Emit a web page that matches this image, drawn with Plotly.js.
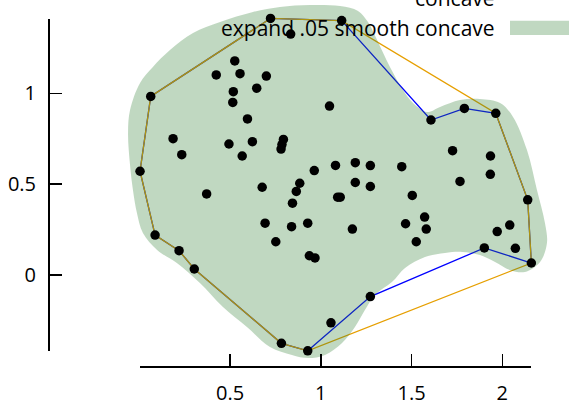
<!DOCTYPE html>
<html>
<head>
<meta charset="utf-8">
<script src="https://cdn.plot.ly/plotly-3.0.1.min.js"></script>
<style>html,body{margin:0;padding:0;background:#fff;}#chart{width:569px;height:406px;}</style>
</head>
<body>
<div id="chart"></div>
<script>
// scattered points
const ptsX = [0.723,1.115,0.834,0.063,0.004,0.087,0.219,0.303,0.783,0.928,1.056,1.273,1.901,2.160,2.140,1.964,1.791,1.607,
  0.526,0.424,0.555,0.700,0.647,0.518,0.515,0.596,0.186,0.234,0.494,0.623,0.567,0.794,0.786,0.781,1.048,0.677,0.371,
  0.884,0.865,0.964,1.081,1.190,1.273,1.190,1.273,1.446,1.504,0.693,0.844,0.839,0.928,0.752,0.937,0.968,1.093,1.107,
  1.174,1.467,1.572,1.581,1.526,1.726,1.767,1.935,1.934,1.972,2.041,2.072];
const ptsY = [1.412,1.400,1.326,0.983,0.571,0.220,0.134,0.033,-0.376,-0.417,-0.263,-0.119,0.149,0.066,0.414,0.890,0.917,0.853,
  1.178,1.101,1.108,1.095,1.028,1.009,0.950,0.859,0.750,0.662,0.721,0.734,0.655,0.746,0.718,0.693,0.930,0.483,0.446,
  0.505,0.460,0.575,0.603,0.618,0.602,0.509,0.487,0.596,0.438,0.285,0.395,0.266,0.285,0.183,0.106,0.094,0.428,0.428,
  0.253,0.282,0.319,0.253,0.183,0.684,0.515,0.655,0.554,0.239,0.275,0.147];

// concave hull
const concaveX = [0.063,0.723,1.115,1.607,1.791,1.964,2.140,2.160,1.901,1.273,0.928,0.783,0.303,0.219,0.087,0.004,0.063];
const concaveY = [0.983,1.412,1.400,0.853,0.917,0.890,0.414,0.066,0.149,-0.119,-0.417,-0.376,0.033,0.134,0.220,0.571,0.983];

// convex hull
const convexX = [0.063,0.723,1.115,1.964,2.140,2.160,0.928,0.783,0.303,0.219,0.087,0.004,0.063];
const convexY = [0.983,1.412,1.400,0.890,0.414,0.066,-0.417,-0.376,0.033,0.134,0.220,0.571,0.983];

// expanded smooth concave outline
const smoothX = [-0.062,-0.051,0.004,0.075,0.169,0.296,0.445,0.626,0.775,0.940,1.106,1.205,1.260,1.310,1.381,1.453,1.508,1.585,
  1.657,1.767,1.877,1.988,2.059,2.136,2.191,2.235,2.246,2.208,2.125,2.042,1.960,1.877,1.778,1.684,1.574,1.464,1.392,1.298,
  1.243,1.188,1.117,1.023,0.930,0.841,0.720,0.593,0.461,0.334,0.207,0.098,0.020,-0.013,-0.035,-0.051,-0.062];
const smoothY = [0.781,0.908,1.057,1.145,1.238,1.332,1.392,1.447,1.475,1.486,1.480,1.453,1.392,1.293,1.145,1.018,0.947,0.897,
  0.925,0.963,0.969,0.947,0.870,0.688,0.468,0.286,0.176,0.072,0.017,0.028,0.072,0.110,0.127,0.121,0.099,0.039,-0.039,-0.110,
  -0.193,-0.286,-0.374,-0.440,-0.457,-0.440,-0.396,-0.286,-0.176,-0.044,0.066,0.138,0.231,0.341,0.468,0.605,0.781];

const xTicks = [0.5, 1, 1.5, 2];
const xTickText = ['0.5', '1', '1.5', '2'];
const yTicks = [0, 0.5, 1];
const yTickText = ['0', '0.5', '1'];

const legendLabels = ['concave', 'expand .05 smooth concave'];

const W = 569, H = 406;
// pixel frame of the picture
const px0 = 139.3, pxPerUnit = 181.5, py0 = 275, pyPerUnit = 181.7;
const fullXRange = [(0 - px0) / pxPerUnit, (W - px0) / pxPerUnit];
const fullYRange = [(py0 - H) / pyPerUnit, (py0 - 0) / pyPerUnit];
const xAxPix = [140, 531], xAxY = 366;
const yAxPix = [19, 351], yAxX = 48;

const FILL = 'rgba(46,125,50,0.3)';
const FONT = 'Open Sans, Noto Sans, sans-serif';

const traces = [
  {x: concaveX, y: concaveY, mode: 'lines', line: {color: '#0000ff', width: 1.3}, showlegend: false, hoverinfo: 'skip'},
  {x: convexX, y: convexY, mode: 'lines', line: {color: '#e69f00', width: 1.3}, showlegend: false, hoverinfo: 'skip'},
  {x: smoothX, y: smoothY, mode: 'lines', fill: 'toself', fillcolor: FILL,
   line: {width: 0, shape: 'spline', smoothing: 1, color: 'rgba(0,0,0,0)'}, showlegend: false, hoverinfo: 'skip'},
  {x: ptsX, y: ptsY, mode: 'markers', marker: {color: '#000', size: 9.5}, showlegend: false},
  {x: [null], y: [null], xaxis: 'x2', yaxis: 'y2', mode: 'markers', showlegend: false, hoverinfo: 'skip'}
];

const layout = {
  width: W, height: H,
  margin: {l: 0, r: 0, t: 0, b: 0},
  paper_bgcolor: '#fff', plot_bgcolor: 'rgba(0,0,0,0)',
  showlegend: false,
  font: {family: FONT, size: 20, color: '#000'},
  xaxis: {domain: [0, 1], range: fullXRange, visible: false, fixedrange: true},
  yaxis: {domain: [0, 1], range: fullYRange, visible: false, fixedrange: true},
  xaxis2: {
    domain: [xAxPix[0] / W, xAxPix[1] / W],
    range: [(xAxPix[0] - px0) / pxPerUnit, (xAxPix[1] - px0) / pxPerUnit],
    anchor: 'free', position: (H - xAxY) / H,
    showline: true, linecolor: '#000', linewidth: 1.5,
    ticks: 'inside', ticklen: 12, tickwidth: 1.5, tickcolor: '#000',
    tickvals: xTicks, ticktext: xTickText, ticklabelstandoff: 8,
    showgrid: false, zeroline: false, tickfont: {family: FONT, size: 20, color: '#000'}
  },
  yaxis2: {
    domain: [(H - yAxPix[1]) / H, (H - yAxPix[0]) / H],
    range: [(py0 - yAxPix[1]) / pyPerUnit, (py0 - yAxPix[0]) / pyPerUnit],
    anchor: 'free', position: yAxX / W,
    showline: true, linecolor: '#000', linewidth: 1.5,
    ticks: 'inside', ticklen: 12, tickwidth: 1.5, tickcolor: '#000',
    tickvals: yTicks, ticktext: yTickText, ticklabelstandoff: 8,
    showgrid: false, zeroline: false, tickfont: {family: FONT, size: 20, color: '#000'}
  },
  annotations: [
    {text: legendLabels[0], xref: 'paper', yref: 'paper', x: 497 / W, y: 1 + 2 / H, xanchor: 'right', yanchor: 'middle',
     showarrow: false, font: {family: FONT, size: 21, color: '#000'}},
    {text: legendLabels[1], xref: 'paper', yref: 'paper', x: 497 / W, y: 1 - 28 / H, xanchor: 'right', yanchor: 'middle',
     showarrow: false, font: {family: FONT, size: 21, color: '#000'}}
  ],
  shapes: [
    {type: 'rect', xref: 'paper', yref: 'paper', x0: 510 / W, x1: 1, y0: 1 - 35 / H, y1: 1 - 20.7 / H,
     fillcolor: 'rgb(192,216,193)', line: {width: 0}}
  ]
};

Plotly.newPlot('chart', traces, layout, {staticPlot: true, displayModeBar: false});
</script>
</body>
</html>
